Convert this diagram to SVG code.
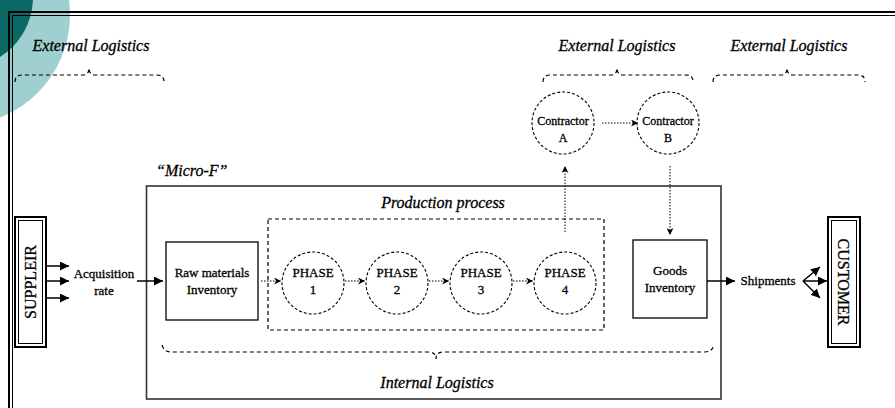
<svg xmlns="http://www.w3.org/2000/svg" width="895" height="408" viewBox="0 0 895 408" font-family="'Liberation Serif', 'DejaVu Serif', serif">
<style>
text{font-family:'Liberation Serif','DejaVu Serif',serif;fill:#000;stroke:#000;stroke-width:0.3}
.it{font-style:italic;font-size:16px}
.lbl{font-size:13px}
.solid{fill:#fff;stroke:#000;stroke-width:1.3}
.dcirc{fill:#fff;stroke:#000;stroke-width:1.1;stroke-dasharray:3 2}
.dbox{fill:none;stroke:#000;stroke-width:1.2;stroke-dasharray:4 3}
.brace{fill:none;stroke:#000;stroke-width:1.2;stroke-dasharray:4 3}
.arr{fill:none;stroke:#000;stroke-width:1.5;marker-end:url(#ah)}
.dot{fill:none;stroke:#000;stroke-width:1;stroke-dasharray:1.5 1.5;marker-end:url(#ahs)}
</style>
<defs>
<marker id="ah" viewBox="0 0 10 10" refX="10" refY="5" markerWidth="6" markerHeight="6" markerUnits="strokeWidth" orient="auto"><path d="M0,0 L10,5 L0,10 Z" fill="#000"/></marker>
<marker id="ahs" viewBox="0 0 10 10" refX="10" refY="5" markerWidth="7" markerHeight="7" markerUnits="strokeWidth" orient="auto"><path d="M0,0 L10,5 L0,10 L3,5 Z" fill="#000"/></marker>
</defs>
<rect width="895" height="408" fill="#fff"/>
<g id="decor">
<circle cx="-40" cy="15" r="110" fill="#9fcfcf"/>
<circle cx="-38" cy="-3" r="71" fill="#0b6864"/>
<path d="M9,408 V12 H895" fill="none" stroke="#000" stroke-width="2"/>
<path d="M12.5,408 V15.5 H895" fill="none" stroke="#000" stroke-width="1"/>
</g>
<g id="ext-left">
<text class="it" x="91" y="51" text-anchor="middle">External Logistics</text>
<path class="brace" d="M15,82 Q15,75 22,75 L83,75 Q89,75 89,68 Q89,75 95,75 L157,75 Q164,75 164,82"/>
</g>
<g id="ext-mid">
<text class="it" x="617" y="51" text-anchor="middle">External Logistics</text>
<path class="brace" d="M543,82 Q543,75 550,75 L611,75 Q617,75 617,68 Q617,75 623,75 L686,75 Q693,75 693,82"/>
</g>
<g id="ext-right">
<text class="it" x="789" y="51" text-anchor="middle">External Logistics</text>
<path class="brace" d="M713,82 Q713,75 720,75 L781,75 Q787,75 787,68 Q787,75 793,75 L858,75 Q865,75 865,82"/>
</g>
<g id="micro-f">
<text class="it" x="156" y="176">“Micro-F”</text>
<rect x="146.5" y="186" width="574.5" height="213" fill="none" stroke="#333" stroke-width="1.6"/>
</g>
<g id="production">
<text class="it" x="443" y="208" text-anchor="middle">Production process</text>
<rect class="dbox" x="268" y="219" width="336" height="111"/>
</g>
<g id="internal">
<path class="brace" d="M162,345 Q164,352 171,352 L428,352 Q436,352 436,359 Q436,352 444,352 L705,352 Q712,352 714,345"/>
<text class="it" x="437" y="388" text-anchor="middle">Internal Logistics</text>
</g>
<g id="supplier">
<rect x="15" y="217" width="31" height="130" fill="#fff" stroke="#000" stroke-width="2"/>
<rect x="18.5" y="220.5" width="24" height="123" fill="none" stroke="#000" stroke-width="1"/>
<text x="0" y="0" font-size="16" text-anchor="middle" transform="translate(36,282) rotate(-90)">SUPPLEIR</text>
</g>
<g id="acquisition">
<text class="lbl" x="104" y="278" text-anchor="middle">Acquisition</text>
<text class="lbl" x="104" y="295" text-anchor="middle">rate</text>
</g>
<g id="raw">
<rect class="solid" x="166" y="242" width="92" height="78"/>
<text class="lbl" x="212" y="277" text-anchor="middle">Raw materials</text>
<text class="lbl" x="212" y="294" text-anchor="middle">Inventory</text>
</g>
<g id="phase1"><circle class="dcirc" cx="313" cy="283" r="31"/><text class="lbl" x="313" y="277" text-anchor="middle">PHASE</text><text class="lbl" x="313" y="294" text-anchor="middle">1</text></g>
<g id="phase2"><circle class="dcirc" cx="397" cy="283" r="31"/><text class="lbl" x="397" y="277" text-anchor="middle">PHASE</text><text class="lbl" x="397" y="294" text-anchor="middle">2</text></g>
<g id="phase3"><circle class="dcirc" cx="481" cy="283" r="31"/><text class="lbl" x="481" y="277" text-anchor="middle">PHASE</text><text class="lbl" x="481" y="294" text-anchor="middle">3</text></g>
<g id="phase4"><circle class="dcirc" cx="565" cy="283" r="31"/><text class="lbl" x="565" y="277" text-anchor="middle">PHASE</text><text class="lbl" x="565" y="294" text-anchor="middle">4</text></g>
<g id="contractorA"><circle class="dcirc" cx="563" cy="123" r="31"/><text x="563" y="125" font-size="12" text-anchor="middle">Contractor</text><text x="563" y="142" font-size="12" text-anchor="middle">A</text></g>
<g id="contractorB"><circle class="dcirc" cx="668" cy="123" r="31"/><text x="668" y="125" font-size="12" text-anchor="middle">Contractor</text><text x="668" y="142" font-size="12" text-anchor="middle">B</text></g>
<g id="goods">
<rect class="solid" x="633" y="240" width="74" height="78"/>
<text class="lbl" x="670" y="275" text-anchor="middle">Goods</text>
<text class="lbl" x="670" y="292" text-anchor="middle">Inventory</text>
</g>
<g id="shipments"><text class="lbl" x="768" y="285" text-anchor="middle">Shipments</text></g>
<g id="customer">
<rect x="828" y="217" width="32" height="130" fill="#fff" stroke="#000" stroke-width="2"/>
<rect x="831.5" y="220.5" width="25" height="123" fill="none" stroke="#000" stroke-width="1"/>
<text x="0" y="0" font-size="16" text-anchor="middle" transform="translate(838,282) rotate(90)">CUSTOMER</text>
</g>
<g id="connectors">
<path class="arr" d="M46,266 H69"/>
<path class="arr" d="M46,281 H69"/>
<path class="arr" d="M46,298 H69"/>
<path class="arr" d="M137,281 H163"/>
<path class="dot" d="M261,281 H281"/>
<path class="dot" d="M345,281 H365"/>
<path class="dot" d="M429,281 H449"/>
<path class="dot" d="M513,281 H533"/>
<path class="dot" d="M565,232 V166"/>
<path class="dot" d="M602,123 H638"/>
<path class="dot" d="M670,166 V235"/>
<path class="arr" d="M707,281 H735"/>
<path class="arr" d="M803,281 L820,267"/>
<path class="arr" d="M803,281 H827"/>
<path class="arr" d="M803,281 L820,298"/>
</g>
</svg>
